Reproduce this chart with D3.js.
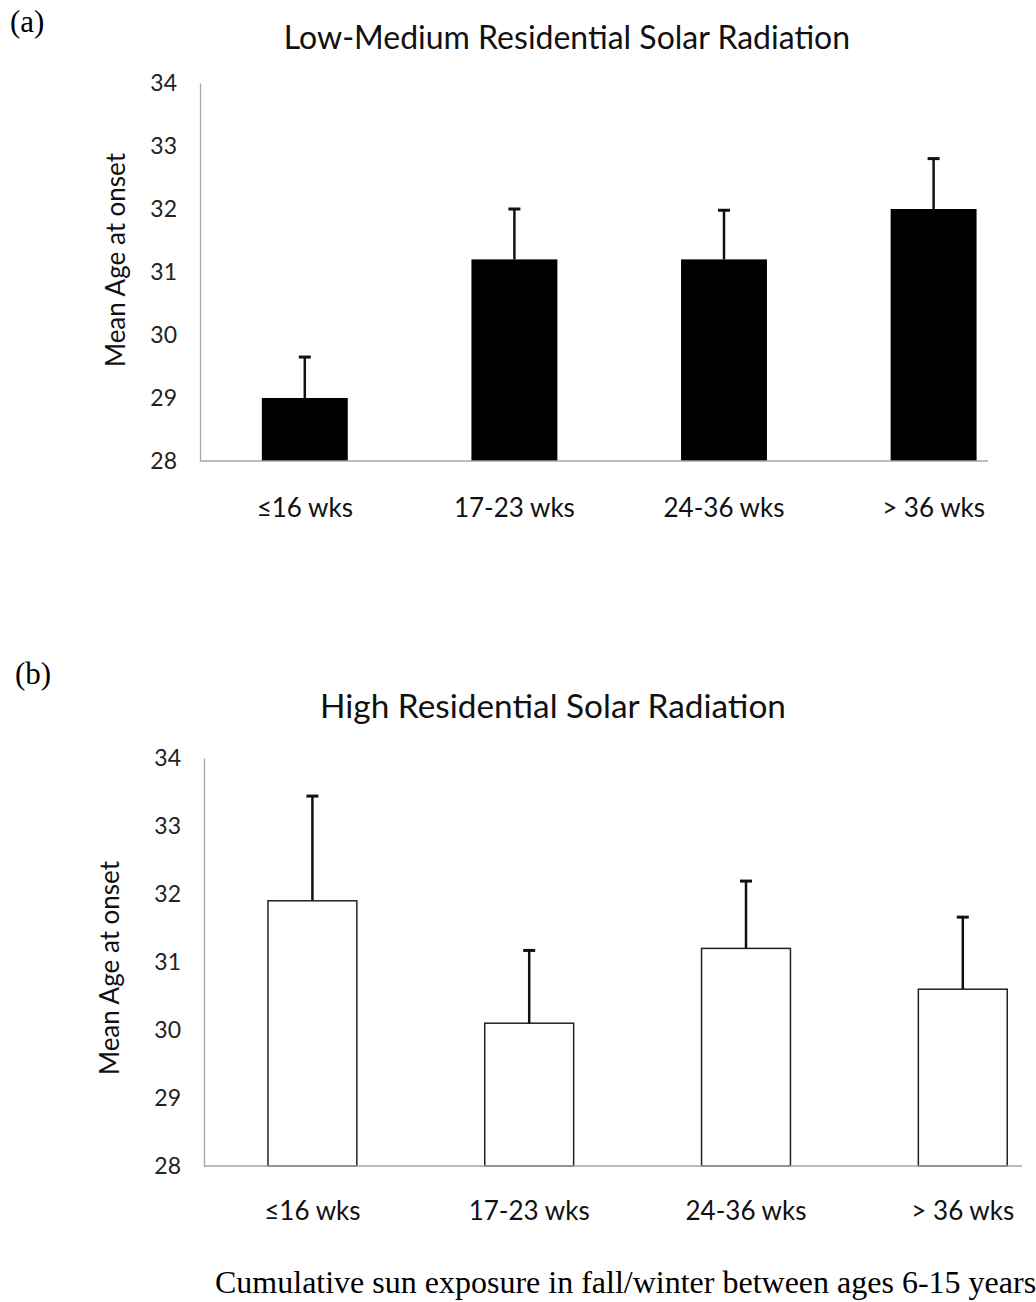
<!DOCTYPE html>
<html>
<head>
<meta charset="utf-8">
<script src="https://cdn.jsdelivr.net/npm/d3@7"></script>
<style>
  body { margin: 0; background: #fff; }
  svg { display: block; }
</style>
</head>
<body>
<div id="chart"></div>
<script>
// data
var categories = ["≤16 wks", "17-23 wks", "24-36 wks", "> 36 wks"];
var lowMedMean = [29.0, 31.2, 31.2, 32.0];
var lowMedErr  = [0.65, 0.8, 0.78, 0.8];
var highMean   = [31.9, 30.1, 31.2, 30.6];
var highErr    = [1.54, 1.07, 0.99, 1.06];
var yTicks     = [28, 29, 30, 31, 32, 33, 34];

var width = 1036, height = 1302;
var sans = "Lato, 'Noto Sans', sans-serif";
var serif = "'Liberation Serif', 'Times New Roman', serif";

var svg = d3.select("#chart").append("svg")
    .attr("width", width)
    .attr("height", height);

svg.append("rect").attr("width", width).attr("height", height).attr("fill", "#fff");

function drawPanel(p) {
    var x = d3.scaleBand()
        .domain(categories)
        .range([p.x0, p.x0 + 4 * p.step])
        .paddingInner(0.59)
        .paddingOuter(0.295);

    var y = d3.scaleLinear()
        .domain([28, 34])
        .range([p.yBase, p.yTop]);

    var g = svg.append("g");

    // title
    g.append("text")
        .attr("x", p.titleX)
        .attr("y", p.titleY)
        .attr("text-anchor", "middle")
        .attr("font-family", sans)
        .attr("font-size", p.titleSize)
        .attr("fill", "#111")
        .text(p.title);

    // y axis
    var yAxis = g.append("g")
        .attr("transform", "translate(" + p.x0 + ",0)")
        .call(d3.axisLeft(y).tickValues(yTicks).tickFormat(d3.format("d"))
            .tickSize(0).tickSizeOuter(0).tickPadding(23));
    yAxis.select(".domain").attr("stroke", "#a6a6a6").attr("stroke-width", 1.3);
    yAxis.selectAll("text")
        .attr("font-family", sans)
        .attr("font-size", 23)
        .attr("fill", "#222");

    // y title
    g.append("text")
        .attr("transform", "translate(" + p.ylabX + "," + p.ylabY + ") rotate(-90)")
        .attr("text-anchor", "middle")
        .attr("font-family", sans)
        .attr("font-size", 26)
        .attr("fill", "#111")
        .text("Mean Age at onset");

    // bars
    g.selectAll(".bar")
        .data(p.mean)
        .enter().append("rect")
        .attr("class", "bar")
        .attr("x", function(d, i) { return x(categories[i]); })
        .attr("width", x.bandwidth())
        .attr("y", function(d) { return y(d); })
        .attr("height", function(d) { return y(28) - y(d); })
        .attr("fill", p.fill)
        .attr("stroke", p.stroke)
        .attr("stroke-width", p.strokeW);

    // x baseline
    g.append("line")
        .attr("x1", p.x0).attr("x2", p.xEnd)
        .attr("y1", y(28)).attr("y2", y(28))
        .attr("stroke", "#a6a6a6")
        .attr("stroke-width", 1.5);

    // error bars (plus side only)
    var cx = function(i) { return x(categories[i]) + x.bandwidth() / 2; };
    g.selectAll(".err")
        .data(p.mean)
        .enter().append("line")
        .attr("class", "err")
        .attr("x1", function(d, i) { return cx(i); })
        .attr("x2", function(d, i) { return cx(i); })
        .attr("y1", function(d) { return y(d); })
        .attr("y2", function(d, i) { return y(d + p.err[i]); })
        .attr("stroke", "#111")
        .attr("stroke-width", 2.5);
    g.selectAll(".cap")
        .data(p.mean)
        .enter().append("line")
        .attr("class", "cap")
        .attr("x1", function(d, i) { return cx(i) - 6; })
        .attr("x2", function(d, i) { return cx(i) + 6; })
        .attr("y1", function(d, i) { return y(d + p.err[i]); })
        .attr("y2", function(d, i) { return y(d + p.err[i]); })
        .attr("stroke", "#111")
        .attr("stroke-width", 3);

    // category labels
    g.selectAll(".cat")
        .data(categories)
        .enter().append("text")
        .attr("class", "cat")
        .attr("x", function(d) { return x(d) + x.bandwidth() / 2; })
        .attr("y", y(28) + p.catOff)
        .attr("text-anchor", "middle")
        .attr("font-family", sans)
        .attr("font-size", 26)
        .attr("fill", "#111")
        .text(function(d) { return d; });

    // panel letter
    svg.append("text")
        .attr("x", p.letterX)
        .attr("y", p.letterY)
        .attr("font-family", serif)
        .attr("font-size", 31)
        .attr("fill", "#000")
        .text(p.letter);
}

drawPanel({
    title: "Low-Medium Residential Solar Radiation", titleX: 567, titleY: 49, titleSize: 32,
    x0: 200, step: 209.6, xEnd: 988, yBase: 461, yTop: 83,
    ylabX: 125, ylabY: 260, catOff: 56,
    mean: lowMedMean, err: lowMedErr,
    fill: "#000", stroke: "none", strokeW: 0,
    letter: "(a)", letterX: 10, letterY: 32
});

drawPanel({
    title: "High Residential Solar Radiation", titleX: 553, titleY: 718, titleSize: 33.4,
    x0: 204, step: 216.8, xEnd: 1022, yBase: 1166, yTop: 758,
    ylabX: 119, ylabY: 968, catOff: 54,
    mean: highMean, err: highErr,
    fill: "#fff", stroke: "#222", strokeW: 1.5,
    letter: "(b)", letterX: 15, letterY: 684
});

// shared caption
svg.append("text")
    .attr("x", 215)
    .attr("y", 1293)
    .attr("font-family", serif)
    .attr("font-size", 32)
    .attr("fill", "#000")
    .text("Cumulative sun exposure in fall/winter between ages 6-15 years");
</script>
</body>
</html>
